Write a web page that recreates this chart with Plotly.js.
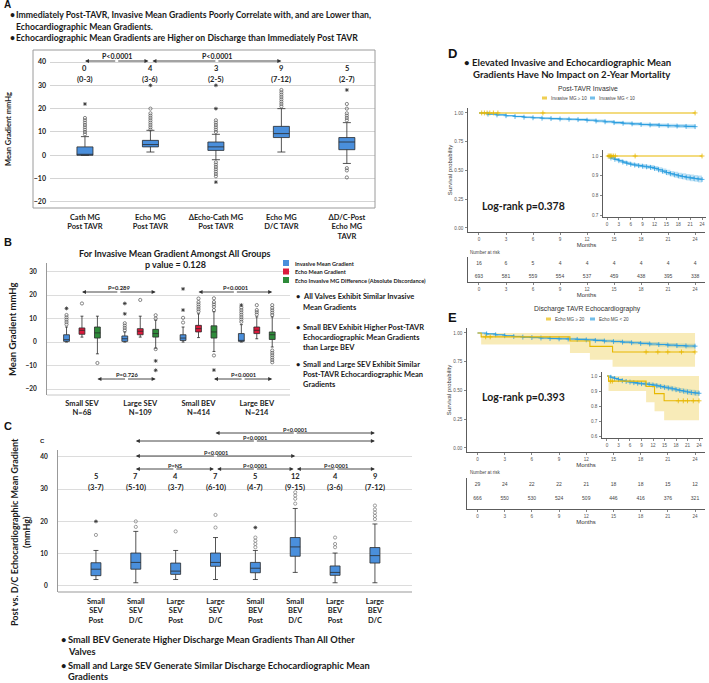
<!DOCTYPE html>
<html><head><meta charset="utf-8">
<script src="https://cdn.plot.ly/plotly-3.0.1.min.js"></script>
<style>html,body{margin:0;padding:0;background:#fff}#chart{width:709px;height:683px}</style>
</head><body><div id="chart"></div>
<script>
// ================= DATA =================
// ---- Panel A ----
const catsA = ['Cath MG<br>Post TAVR','Echo MG<br>Post TAVR','ΔEcho-Cath MG<br>Post TAVR','Echo MG<br>D/C TAVR','ΔD/C-Post<br>Echo MG<br>TAVR'];
const medLabelA = ['0','4','3','9','5'];
const iqrLabelA = ['(0-3)','(3-6)','(2-5)','(7-12)','(2-7)'];
const q1A  = [0, 3.6, 2.1, 7.6, 2.4];
const medA = [0, 4.6, 3.6, 9.3, 5.7];
const q3A  = [3.6, 6.4, 5.7, 12.4, 7.6];
const loA  = [0, 1.4, -1.9, 1.4, -3.5];
const hiA  = [8, 10.7, 9, 20, 14];
const outA = [[9,10,11,12,13,14,15,16],[11,12,13,14,15,16,17,18,20],[10,11,12,13,14,15,-3,-4,-5,-6,-7,-8,-9],[21,22,23,24,25,26,27,28],[15,16,17,18,20,22,-5.5,-6.5,-9.5]];
const extA = [[22],[30],[20,30,-11.5],[],[28]];
const compA = [{from:1,to:2,label:'P<0.0001'},{from:2,to:4,label:'P<0.0001'}];

// ---- Panel B ----
const grpB = ['Small SEV<br>N=68','Large SEV<br>N=109','Small BEV<br>N=414','Large BEV<br>N=214'];
const seriesB = ['Invasive Mean Gradient','Echo Mean Gradient','Echo Invasive MG Difference (Absolute Discordance)'];
const q1B  = [[0.3,0.3,0.7,0.3],[3.3,3.1,4.3,3.6],[1.7,2.1,1.7,1.1]];
const medB = [[1,1.4,1.7,0.7],[5,4.6,5.7,5],[3.9,3.6,4.3,3.1]];
const q3B  = [[3.1,2.6,3.1,3.6],[6,5.7,7.1,6.4],[6.4,5.4,6.9,4.3]];
const loB  = [[0,0,0,0],[2.1,2.1,1.9,1.4],[-5,-2.6,-4,-2.1]];
const hiB  = [[6.4,4.3,6.4,7.4],[11,11,12,10.7],[11,9.3,12.9,10.7]];
const outB = [
  [[7.5,8.5,9.5,10.5,11.5],[5,6,7,8],[8.3,10.3],[8.6,9.6,10.6,11.6,12.6,13.6,14.6]],
  [[16.4],[17.9],[13,14,15,16,17,18.5],[11.7,12.7,13.6,15.7]],
  [[-8.9],[10,11.4,-3],[13.6,15,16,17,18.6,-5.7],[11.5,12.5,13.5,14.5,15.7,-3.6,-4.6,-5.6,-6.6,-7.6,-8.6]]
];
const extB = [[[14.3],[12,16.4],[13.6,22.6],[15.7]],[[],[],[],[]],[[],[-8,-12],[-11.9],[]]];
const compB = [
  {fromG:0,fromS:1,toG:1,toS:2,label:'P=0.289',side:'top'},
  {fromG:2,fromS:1,toG:3,toS:2,label:'P<0.0001',side:'top'},
  {fromG:0,fromS:2,toG:1,toS:2,label:'P=0.726',side:'bottom'},
  {fromG:2,fromS:2,toG:3,toS:2,label:'P<0.0001',side:'bottom'}
];
const bulletsB = [
  ['All Valves Exhibit Similar Invasive','Mean Gradients'],
  ['Small BEV Exhibit Higher Post-TAVR','Echocardiographic Mean Gradients','than Large BEV'],
  ['Small and Large SEV Exhibit Similar','Post-TAVR Echocardiographic Mean','Gradients']
];

// ---- Panel C ----
const catsC = ['Small<br>SEV<br>Post','Small<br>SEV<br>D/C','Large<br>SEV<br>Post','Large<br>SEV<br>D/C','Small<br>BEV<br>Post','Small<br>BEV<br>D/C','Large<br>BEV<br>Post','Large<br>BEV<br>D/C'];
const medLabelC = ['5','7','4','7','5','12','4','9'];
const iqrLabelC = ['(3-7)','(5-10)','(3-7)','(6-10)','(4-7)','(9-15)','(3-6)','(7-12)'];
const q1C  = [3.2,5.2,3.6,6.1,4.1,9.2,3.3,7.1];
const medC = [5.2,7.3,4.6,7.3,5.5,12.1,4.2,9.4];
const q3C  = [7.2,10.2,7.1,10.2,7.3,15,6.2,11.9];
const loC  = [2,1,2,2,2,4.2,1,1];
const hiC  = [11,16.9,11,15,11,24,10.2,19.2];
const outC = [[15.8],[18.3,20],[16.9],[18.1,22],[12,13,14,15],[25.5,27,28,29],[12,13,15],[20.7,21.7,22.7,23.7,24.9]];
const extC = [[20],[],[],[],[18.1],[],[],[]];
const compC = [
  {from:4,to:8,label:'P<0.0001',level:0},
  {from:2,to:8,label:'P<0.0001',level:1},
  {from:2,to:6,label:'P<0.0001',level:2},
  {from:2,to:4,label:'P=NS',level:3},
  {from:4,to:6,label:'P<0.0001',level:3},
  {from:6,to:8,label:'P<0.0001',level:3}
];

// ---- Panels D / E (Kaplan-Meier) ----
const kmT = [0,1,2,3,4,5,6,7,8,9,10,11,12,13,14,15,16,17,18,19,20,21,22,23,24];
const dBlueS  = [1,.99,.983,.976,.969,.963,.958,.954,.951,.948,.945,.942,.937,.93,.923,.916,.91,.905,.9,.896,.892,.889,.886,.883,.881];
const dBlueLo = [1,.986,.977,.969,.961,.954,.949,.944,.941,.937,.934,.930,.925,.917,.910,.902,.896,.890,.885,.880,.876,.872,.869,.865,.863];
const dBlueHi = [1,.994,.989,.983,.977,.972,.967,.964,.961,.959,.956,.954,.949,.943,.936,.930,.924,.920,.915,.912,.908,.906,.903,.901,.899];
const dYelT = [0,24];
const dYelS = [1,1];
const dYelCens = [0.3,0.6,0.9,1.2,1.6,2.1,7.1,24];

const eBlueS  = [1,.992,.984,.976,.969,.964,.96,.956,.952,.949,.947,.944,.94,.935,.93,.925,.92,.915,.909,.904,.899,.894,.89,.887,.885];
const eBlueLo = [1,.988,.978,.969,.961,.955,.95,.946,.941,.938,.935,.931,.927,.921,.916,.91,.905,.899,.893,.887,.882,.876,.872,.868,.866];
const eBlueHi = [1,.996,.99,.983,.977,.973,.97,.966,.963,.96,.959,.957,.953,.949,.944,.94,.935,.931,.925,.921,.916,.912,.908,.906,.904];
const eYelT  = [0,0.4,10.2,12.4,14.9,24];
const eYelS  = [1,.966,.93,.883,.835,.835];
const eYelLo = [1,.90,.825,.766,.706,.706];
const eYelHi = [1,1,1,1,1,1];
const eYelCens = [0.9,1.4,18.6,19.9,21,22.5,24];

const riskT = [0,3,6,9,12,15,18,21,24];
const riskDYel  = [16,6,5,4,4,4,4,4,4];
const riskDBlue = [693,581,559,554,537,459,438,395,338];
const riskEYel  = [29,24,22,22,21,18,18,15,12];
const riskEBlue = [666,550,530,524,509,446,416,376,321];
const legendD = ['Invasive MG ≥ 10','Invasive MG < 10'];
const legendE = ['Echo MG ≥ 20','Echo MG < 20'];

// ================= HELPERS =================
const W=709,H=683;
const X = p => p/W;
const Y = p => 1 - p/H;
const FB = 'Lato, "Open Sans", sans-serif';
const FK = '"Liberation Sans", Arial, sans-serif';
const BLUE='#4a8fdc', RED='#dc1a3c', GREEN='#2e8b3a';
const KY='#E7B800', KB='#2E9FDF';
const traces=[], annotations=[], shapes=[];

function txt(x,y,text,size,opt={}){
  annotations.push(Object.assign({xref:'paper',yref:'paper',x:X(x),y:Y(y),text,showarrow:false,
    xanchor:'left',yanchor:'middle',font:{family:FB,size,color:'#1a1a1a'}},opt));
}
// double-headed arrow: x in data units of axis xr, y in page pixels
function dblArrow(xr,x0,x1,ypx){
  const mid=(x0+x1)/2;
  [x0,x1].forEach(xx=>annotations.push({xref:xr,yref:'paper',axref:xr,ayref:'pixel',x:xx,y:Y(ypx),ax:mid,ay:0,text:'',
    showarrow:true,arrowhead:2,arrowsize:0.9,arrowwidth:0.9,arrowcolor:'#333',standoff:0,startstandoff:0}));
}
function pLabel(xr,x,ypx,text,size){
  annotations.push({xref:xr,yref:'paper',x:x,y:Y(ypx),text:'<b>'+text+'</b>',showarrow:false,yanchor:'middle',
    font:{family:FB,size,color:'#222'}});
}
function boxTrace(xa,ya,pos,q1,med,q3,lo,hi,fill,width){
  return {type:'box',xaxis:xa,yaxis:ya,x:pos,q1,median:med,q3,lowerfence:lo,upperfence:hi,
    fillcolor:fill,line:{color:'#2a2a2a',width:0.8},width,whiskerwidth:0.5,boxpoints:false,hoverinfo:'skip',showlegend:false};
}
function outTraces(xa,ya,pos,outs,exts,col){
  const xo=[],yo=[],xe=[],ye=[];
  outs.forEach((arr,i)=>arr.forEach(v=>{xo.push(pos[i]);yo.push(v);}));
  exts.forEach((arr,i)=>arr.forEach(v=>{xe.push(pos[i]);ye.push(v);}));
  traces.push({type:'scatter',mode:'markers',xaxis:xa,yaxis:ya,x:xo,y:yo,cliponaxis:false,
    marker:{symbol:'circle-open',size:3.2,color:col||'#555',line:{width:0.7}},hoverinfo:'skip',showlegend:false});
  traces.push({type:'scatter',mode:'markers',xaxis:xa,yaxis:ya,x:xe,y:ye,cliponaxis:false,
    marker:{symbol:'asterisk-open',size:3.2,color:'#333',line:{width:0.8}},hoverinfo:'skip',showlegend:false});
}
function stepAt(ts,ss,t){let v=ss[0];for(let i=0;i<ts.length;i++){if(ts[i]<=t)v=ss[i];}return v;}
function kmBand(xa,ya,t,lo,hi,fill){
  traces.push({type:'scatter',mode:'lines',xaxis:xa,yaxis:ya,x:t,y:lo,line:{width:0,shape:'hv'},hoverinfo:'skip',showlegend:false});
  traces.push({type:'scatter',mode:'lines',xaxis:xa,yaxis:ya,x:t,y:hi,line:{width:0,shape:'hv'},fill:'tonexty',fillcolor:fill,hoverinfo:'skip',showlegend:false});
}
function kmLine(xa,ya,t,s,cens,col){
  traces.push({type:'scatter',mode:'lines',xaxis:xa,yaxis:ya,x:t,y:s,line:{color:col,width:1.1,shape:'hv'},hoverinfo:'skip',showlegend:false});
  traces.push({type:'scatter',mode:'markers',xaxis:xa,yaxis:ya,x:cens,y:cens.map(c=>stepAt(t,s,c)),
    marker:{symbol:'cross-thin-open',size:3.5,color:col,line:{width:0.8,color:col}},hoverinfo:'skip',showlegend:false});
}
function kmAll(xa,ya,blue,yel){
  kmBand(xa,ya,kmT,blue.lo,blue.hi,'rgba(46,159,223,0.3)');
  if(yel.lo) kmBand(xa,ya,yel.t,yel.lo,yel.hi,'rgba(231,184,0,0.28)');
  kmLine(xa,ya,kmT,blue.s,kmT.slice(1),KB);
  kmLine(xa,ya,yel.t,yel.s,yel.cens,KY);
}
function riskTable(xa,ya,yel,blue){
  traces.push({type:'scatter',mode:'text',xaxis:xa,yaxis:ya,x:riskT,y:riskT.map(()=>2),text:yel.map(String),
    textfont:{family:FK,size:5,color:'#444'},hoverinfo:'skip',showlegend:false});
  traces.push({type:'scatter',mode:'text',xaxis:xa,yaxis:ya,x:riskT,y:riskT.map(()=>1),text:blue.map(String),
    textfont:{family:FK,size:5,color:'#444'},hoverinfo:'skip',showlegend:false});
  traces.push({type:'scatter',mode:'markers',xaxis:xa,yaxis:ya,x:[-2.0,-2.0],y:[2,1],cliponaxis:false,
    marker:{symbol:'line-ew-open',size:6,line:{width:1.6,color:[KY,KB]}},hoverinfo:'skip',showlegend:false});
}
const kmTick = {family:FK,size:4.6,color:'#555'};
function kmAxis(domain,range,tv,tt,title){
  const a={domain,range,tickvals:tv,ticktext:tt,showgrid:false,zeroline:false,showline:true,linecolor:'#333',linewidth:0.8,
    ticks:'outside',ticklen:2,tickwidth:0.6,tickcolor:'#333',tickfont:kmTick,fixedrange:true,ticklabelstandoff:1};
  if(title) a.title={text:title,font:{family:FK,size:6,color:'#333'},standoff:1};
  return a;
}

// ================= PANEL A =================
const posA = catsA.map((_,i)=>i+1);
traces.push(boxTrace('x','y',posA,q1A,medA,q3A,loA,hiA,BLUE,0.245));
outTraces('x','y',posA,outA,extA);
posA.forEach((p,i)=>{
  annotations.push({xref:'x',yref:'y',x:p,y:37.3,text:'<b>'+medLabelA[i]+'</b>',showarrow:false,font:{family:FB,size:7.5,color:'#222'}});
  annotations.push({xref:'x',yref:'y',x:p,y:32.6,text:'<b>'+iqrLabelA[i]+'</b>',showarrow:false,font:{family:FB,size:7.5,color:'#222'}});
});
compA.forEach((c,k)=>{
  const x0=c.from+(k===1?0.03:0), x1=c.to-(k===0?0.03:0);
  dblArrow('x',x0,x1,61);
  pLabel('x',(x0+x1)/2,55.5,c.label,7);
});
shapes.push({type:'rect',xref:'paper',yref:'paper',x0:X(33),x1:X(375),y0:Y(208),y1:Y(50),line:{color:'#9a9a9a',width:1}});
txt(2,4,'<b>A</b>',10,{font:{family:FK,size:10,color:'#111'}});
txt(8,15,'<b>•</b>',8.7); txt(14,15,'<b>Immediately Post-TAVR, Invasive Mean Gradients Poorly Correlate with, and are Lower than,</b>',8.7);
txt(14,26,'<b>Echocardiographic Mean Gradients.</b>',8.7);
txt(8,38,'<b>•</b>',8.7); txt(14,38,'<b>Echocardiographic Mean Gradients are Higher on Discharge than Immediately Post TAVR</b>',8.7);
txt(8,129,'<b>Mean Gradient mmHg</b>',7.5,{textangle:-90,xanchor:'center'});

// ================= PANEL B =================
const offB=[-0.265,0,0.265], colB=[BLUE,RED,GREEN];
seriesB.forEach((s,j)=>{
  const pos=grpB.map((_,g)=>g+offB[j]);
  traces.push(boxTrace('x2','y2',pos,q1B[j],medB[j],q3B[j],loB[j],hiB[j],colB[j],0.1));
  outTraces('x2','y2',pos,outB[j],extB[j]);
});
compB.forEach(c=>{
  const x0=c.fromG+offB[c.fromS], x1=c.toG+offB[c.toS];
  const ypx=c.side==='top'?292:379;
  dblArrow('x2',x0,x1,ypx);
  pLabel('x2',(x0+x1)/2,ypx-4.5,c.label,5.8);
});
shapes.push({type:'line',xref:'paper',yref:'paper',x0:X(47),x1:X(290),y0:Y(395),y1:Y(395),line:{color:'#c8c8c8',width:1}});
txt(2,242,'<b>B</b>',11,{font:{family:FK,size:11,color:'#111'}});
txt(175,253,'<b>For Invasive Mean Gradient Amongst All Groups</b>',9,{xanchor:'center'});
txt(175,265,'<b>p value = 0.128</b>',9,{xanchor:'center'});
txt(13,329,'<b>Mean Gradient mmHg</b>',9.5,{textangle:-90,xanchor:'center'});
seriesB.forEach((s,j)=>{
  const yy=263+j*8.5;
  shapes.push({type:'rect',xref:'paper',yref:'paper',x0:X(283),x1:X(289),y0:Y(yy+3),y1:Y(yy-3),fillcolor:colB[j],line:{width:0}});
  txt(293,yy,'<b>'+s+'</b>',5.6);
});
const bStart=[297,327,364];
bulletsB.forEach((lines,k)=>{
  txt(294,bStart[k],'<b>•</b>',7.5);
  lines.forEach((l,m)=>txt(301,bStart[k]+m*10.2,'<b>'+l+'</b>',7.5));
});

// ================= PANEL C =================
const posC = catsC.map((_,i)=>i+1);
traces.push(boxTrace('x3','y3',posC,q1C,medC,q3C,loC,hiC,BLUE,0.25));
outTraces('x3','y3',posC,outC,extC,'#777');
posC.forEach((p,i)=>{
  annotations.push({xref:'x3',yref:'y3',x:p,y:33.8,text:'<b>'+medLabelC[i]+'</b>',showarrow:false,font:{family:FB,size:7.5,color:'#222'}});
  annotations.push({xref:'x3',yref:'y3',x:p,y:30.6,text:'<b>'+iqrLabelC[i]+'</b>',showarrow:false,font:{family:FB,size:7.5,color:'#222'}});
});
const levC=[433,441,456,469];
compC.forEach(c=>{
  const x0=c.from+(c.level===3 && c.from!==2?0.04:0), x1=c.to-(c.level===3 && c.to!==8?0.04:0);
  dblArrow('x3',x0,x1,levC[c.level]);
  pLabel('x3',(x0+x1)/2,levC[c.level]-4,c.label,5.6);
});
shapes.push({type:'line',xref:'paper',yref:'paper',x0:X(58),x1:X(412),y0:Y(592),y1:Y(592),line:{color:'#999',width:1}});
txt(2,426,'<b>C</b>',11,{font:{family:FK,size:11,color:'#111'}});
txt(42,441,'<b>C</b>',6,{xanchor:'center',font:{family:FK,size:6,color:'#222'}});
txt(20,532,'<b>Post vs. D/C Echocardiographic Mean Gradient<br>(mmHg)</b>',9,{textangle:-90,xanchor:'center',align:'center'});
txt(59,639,'<b>•</b>',9.3); txt(66,639,'<b>Small BEV Generate Higher Discharge Mean Gradients Than All Other</b>',9.3);
txt(66,651,'<b>Valves</b>',9.3);
txt(59,665,'<b>•</b>',9.3); txt(66,665,'<b>Small and Large SEV Generate Similar Discharge Echocardiographic Mean</b>',9.3);
txt(66,676,'<b>Gradients</b>',9.3);

// ================= PANEL D =================
kmAll('x4','y4',{s:dBlueS,lo:dBlueLo,hi:dBlueHi},{t:dYelT,s:dYelS,cens:dYelCens});
kmAll('x5','y5',{s:dBlueS,lo:dBlueLo,hi:dBlueHi},{t:dYelT,s:dYelS,cens:dYelCens});
riskTable('x6','y6',riskDYel,riskDBlue);
txt(446,53,'<b>D</b>',13,{font:{family:FK,size:13,color:'#111'}});
txt(462,63,'<b>•</b>',9.6); txt(470,63,'<b>Elevated Invasive and Echocardiographic Mean</b>',9.6);
txt(471,75,'<b>Gradients Have No Impact on 2-Year Mortality</b>',9.6);
txt(588,88,'Post-TAVR Invasive',6.8,{xanchor:'center',font:{family:FK,size:6.8,color:'#333'}});
txt(480,206,'<b>Log-rank p=0.378</b>',10.5);
txt(468,252,'Number at risk',4.6,{font:{family:FK,size:4.6,color:'#444'}});

// ================= PANEL E =================
const eYel={t:eYelT,s:eYelS,lo:eYelLo,hi:eYelHi,cens:eYelCens};
kmAll('x7','y7',{s:eBlueS,lo:eBlueLo,hi:eBlueHi},eYel);
kmAll('x8','y8',{s:eBlueS,lo:eBlueLo,hi:eBlueHi},eYel);
riskTable('x9','y9',riskEYel,riskEBlue);
txt(446,318,'<b>E</b>',13,{font:{family:FK,size:13,color:'#111'}});
txt(587,309,'Discharge TAVR Echocardiography',6.8,{xanchor:'center',font:{family:FK,size:6.8,color:'#333'}});
txt(480,397,'<b>Log-rank p=0.393</b>',10.5);
txt(468,472,'Number at risk',4.6,{font:{family:FK,size:4.6,color:'#444'}});

// KM legends
function kmLegend(yc,labels,xs){
  [KY,KB].forEach((c,i)=>{
    const x0=xs[i];
    shapes.push({type:'rect',xref:'paper',yref:'paper',x0:X(x0),x1:X(x0+5),y0:Y(yc+2),y1:Y(yc-2),
      fillcolor:i===0?'rgba(231,184,0,0.35)':'rgba(46,159,223,0.35)',line:{width:0}});
    shapes.push({type:'line',xref:'paper',yref:'paper',x0:X(x0),x1:X(x0+5),y0:Y(yc),y1:Y(yc),line:{color:c,width:1}});
    txt(x0+6.5,yc,labels[i],4.6,{font:{family:FK,size:4.6,color:'#444'}});
  });
}
kmLegend(98,legendD,[542,590]);
kmLegend(319,legendE,[546,590]);

// ================= LAYOUT =================
const boldTick = s => ({family:FB,size:s,color:'#222',weight:700});
const months=[0,3,6,9,12,15,18,21,24];
const layout = {
  width:W,height:H,margin:{l:0,r:0,t:0,b:0},paper_bgcolor:'#fff',plot_bgcolor:'rgba(0,0,0,0)',showlegend:false,
  xaxis:{domain:[X(50),X(375)],range:[0.466,5.43],tickvals:posA,ticktext:catsA,showgrid:false,zeroline:false,ticks:'',tickfont:boldTick(7.5),ticklabelstandoff:3,fixedrange:true},
  yaxis:{domain:[Y(208),Y(55)],range:[-22.6,43],tickvals:[-20,-10,0,10,20,30,40],gridcolor:'#d4d4d4',zeroline:false,ticks:'',tickfont:boldTick(7),ticklabelstandoff:3,fixedrange:true},
  xaxis2:{domain:[X(47),X(290)],range:[-0.6,3.57],tickvals:[0,1,2,3],ticktext:grpB,showgrid:false,zeroline:false,ticks:'',tickfont:boldTick(7.5),ticklabelstandoff:2,fixedrange:true},
  yaxis2:{domain:[Y(395),Y(263)],range:[-22.5,33.6],tickvals:[-20,-10,0,10,20,30],gridcolor:'#dcdcdc',zeroline:false,showline:true,linecolor:'#999',ticks:'',tickfont:boldTick(6.5),ticklabelstandoff:8,fixedrange:true},
  xaxis3:{domain:[X(58),X(412)],range:[0.048,8.93],tickvals:posC,ticktext:catsC,showgrid:false,zeroline:false,ticks:'',tickfont:boldTick(7.5),ticklabelstandoff:3,fixedrange:true},
  yaxis3:{domain:[Y(592),Y(450)],range:[-1.86,42.1],tickvals:[0,10,20,30,40],gridcolor:'#dcdcdc',zeroline:false,showline:true,linecolor:'#999',ticks:'',tickfont:boldTick(6.5),ticklabelstandoff:8,fixedrange:true},
  xaxis4:Object.assign(kmAxis([X(468),X(705)],[-1.22,25.1],months,months.map(String),'Months'),{anchor:'y4'}),
  yaxis4:Object.assign(kmAxis([Y(232),Y(108)],[-0.035,1.043],[0,.25,.5,.75,1],['0.00','0.25','0.50','0.75','1.00'],'Survival probability'),{anchor:'x4'}),
  xaxis5:Object.assign(kmAxis([X(603),X(706)],[-1.01,25.0],months,months.map(String)),{anchor:'y5'}),
  yaxis5:Object.assign(kmAxis([Y(217),Y(150)],[0.69,1.0305],[.7,.8,.9,1],['0.7','0.8','0.9','1.0']),{anchor:'x5'}),
  xaxis6:Object.assign(kmAxis([X(468),X(705)],[-1.22,25.1],months,months.map(String),'Months'),{anchor:'y6'}),
  yaxis6:Object.assign(kmAxis([Y(282),Y(257)],[0.615,2.54],[],[]),{anchor:'x6',ticks:'',showticklabels:false}),
  xaxis7:Object.assign(kmAxis([X(467),X(705)],[-1.16,25.1],months,months.map(String),'Months'),{anchor:'y7'}),
  yaxis7:Object.assign(kmAxis([Y(452),Y(328)],[-0.035,1.043],[0,.25,.5,.75,1],['0.00','0.25','0.50','0.75','1.00'],'Survival probability'),{anchor:'x7'}),
  xaxis8:Object.assign(kmAxis([X(602),X(703)],[-1.3,25.04],months,months.map(String)),{anchor:'y8'}),
  yaxis8:Object.assign(kmAxis([Y(438),Y(372)],[0.587,1.027],[.6,.7,.8,.9,1],['0.6','0.7','0.8','0.9','1.0']),{anchor:'x8'}),
  xaxis9:Object.assign(kmAxis([X(467),X(705)],[-1.16,25.1],months,months.map(String),'Months'),{anchor:'y9'}),
  yaxis9:Object.assign(kmAxis([Y(509),Y(478)],[0.286,2.5],[],[]),{anchor:'x9',ticks:'',showticklabels:false}),
  annotations,shapes
};
['','2','3'].forEach(k=>{layout['xaxis'+k].anchor='y'+k; layout['yaxis'+k].anchor='x'+k;});
Plotly.newPlot('chart',traces,layout,{staticPlot:true,displayModeBar:false});
</script></body></html>
